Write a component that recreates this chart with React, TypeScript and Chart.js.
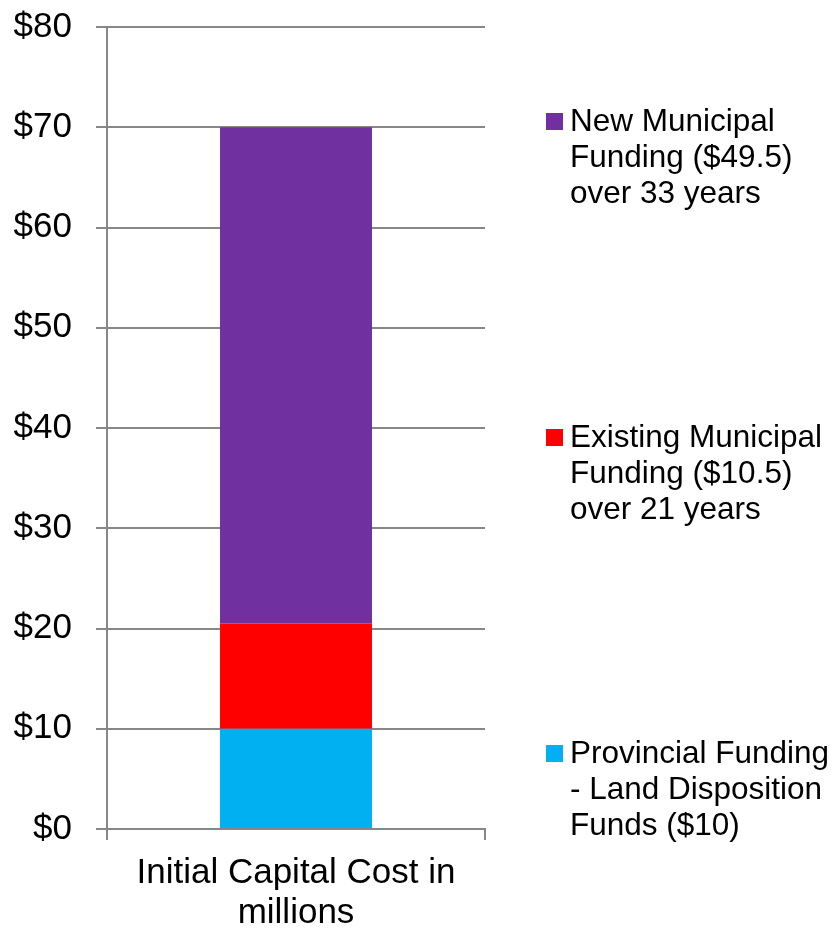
import React, { useEffect, useRef } from 'react';
import { Chart, registerables } from 'chart.js';

Chart.register(...registerables);

const categories = [['Initial Capital Cost in', 'millions']];
const seriesLabels = [
  'Provincial Funding - Land Disposition Funds ($10)',
  'Existing Municipal Funding ($10.5) over 21 years',
  'New Municipal Funding ($49.5) over 33 years',
];
const provincialFunding = [10];
const existingMunicipal = [10.5];
const newMunicipal = [49.5];
const seriesColors = ['#00B0F0', '#FF0000', '#7030A0'];
const yMin = 0;
const yMax = 80;
const yStep = 10;

const FONT = '"Liberation Sans", Arial, Helvetica, sans-serif';
const GRID = '#878787';

function wrapText(ctx: CanvasRenderingContext2D, text: string, maxW: number): string[] {
  const words = text.split(' ');
  const lines: string[] = [];
  let cur = '';
  for (const w of words) {
    const test = cur ? cur + ' ' + w : w;
    if (ctx.measureText(test).width > maxW && cur) {
      lines.push(cur);
      cur = w;
    } else {
      cur = test;
    }
  }
  if (cur) lines.push(cur);
  return lines;
}

const sideLegend = {
  id: 'sideLegend',
  afterDraw(chart: any) {
    const ctx: CanvasRenderingContext2D = chart.ctx;
    const area = chart.chartArea;
    const ds = chart.data.datasets;
    ctx.save();
    ctx.font = `31.5px ${FONT}`;
    ctx.textAlign = 'left';
    ctx.textBaseline = 'alphabetic';
    const boxX = area.right + 61;
    const textX = boxX + 24;
    const order = ds.map((_: any, i: number) => i).reverse();
    order.forEach((di: number, k: number) => {
      const baseY = 131 + k * 316;
      const lines = wrapText(ctx, ds[di].label, 262);
      ctx.fillStyle = ds[di].backgroundColor;
      ctx.fillRect(boxX, baseY - 18, 17, 17);
      ctx.fillStyle = '#000';
      lines.forEach((ln, i) => ctx.fillText(ln, textX, baseY + i * 36));
    });
    ctx.restore();
  },
};

export default function App() {
  const ref = useRef<HTMLCanvasElement>(null);
  useEffect(() => {
    if (!ref.current) return;
    const datasetsValues = [provincialFunding, existingMunicipal, newMunicipal];
    const chart = new Chart(ref.current, {
      type: 'bar',
      data: {
        labels: categories as any,
        datasets: datasetsValues.map((vals, i) => ({
          label: seriesLabels[i],
          data: vals,
          backgroundColor: seriesColors[i],
          borderWidth: 0,
          categoryPercentage: 1,
          barPercentage: 0.402,
        })),
      },
      options: {
        animation: false,
        responsive: false,
        maintainAspectRatio: false,
        layout: { padding: { left: 0, top: 27, right: 350, bottom: 0 } },
        plugins: {
          legend: { display: false },
          tooltip: { enabled: false },
        },
        scales: {
          x: {
            stacked: true,
            grid: {
              display: true,
              offset: true,
              drawOnChartArea: false,
              drawTicks: true,
              tickLength: 11,
              color: GRID,
              lineWidth: 2,
            },
            border: { display: true, color: GRID, width: 2 },
            ticks: {
              color: '#000',
              padding: 13,
              font: { family: FONT, size: 35, lineHeight: 1.143 },
              maxRotation: 0,
            },
            afterFit: (s: any) => {
              s.height = 100;
              s.paddingLeft = 0;
              s.paddingRight = 0;
            },
          },
          y: {
            stacked: true,
            min: yMin,
            max: yMax,
            grid: {
              color: GRID,
              lineWidth: 2,
              tickLength: 11,
            },
            border: { display: true, color: GRID, width: 2 },
            ticks: {
              stepSize: yStep,
              color: '#000',
              padding: 24,
              font: { family: FONT, size: 35 },
              callback: (v: any) => '$' + v,
            },
            afterFit: (s: any) => {
              s.width = 107;
              s.paddingTop = 0;
              s.paddingBottom = 0;
            },
          },
        },
      },
      plugins: [sideLegend],
    });
    return () => chart.destroy();
  }, []);
  return (
    <div style={{ position: 'absolute', left: 0, top: 0, width: 835, height: 929, background: '#fff' }}>
      <canvas ref={ref} width={835} height={929} style={{ display: 'block' }} />
    </div>
  );
}
